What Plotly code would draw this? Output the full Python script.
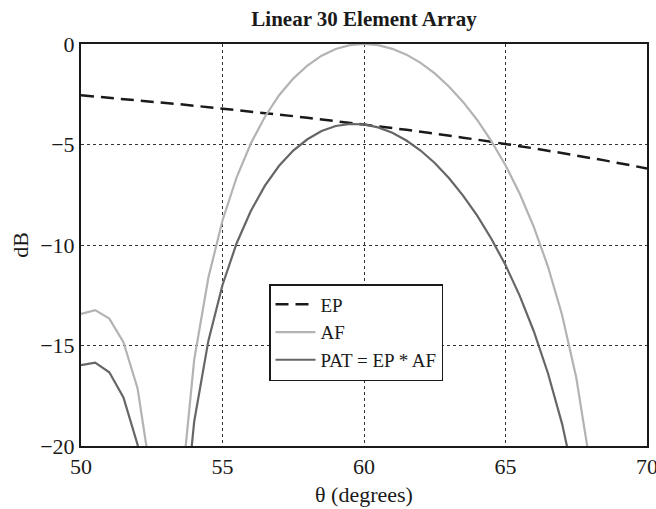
import plotly.graph_objects as go

theta = [50.0, 50.5, 51.0, 51.5, 52.0, 52.5, 53.0, 53.5, 54.0, 54.5,
         55.0, 55.5, 56.0, 56.5, 57.0, 57.5, 58.0, 58.5, 59.0, 59.5,
         60.0, 60.5, 61.0, 61.5, 62.0, 62.5, 63.0, 63.5, 64.0, 64.5,
         65.0, 65.5, 66.0, 66.5, 67.0, 67.5, 68.0, 68.5, 69.0, 69.5, 70.0]

ep = [-2.55, -2.61, -2.67, -2.74, -2.80, -2.87, -2.93, -3.00, -3.07, -3.14,
      -3.21, -3.28, -3.36, -3.43, -3.51, -3.59, -3.67, -3.75, -3.83, -3.91,
      -4.00, -4.09, -4.18, -4.27, -4.36, -4.46, -4.56, -4.66, -4.76, -4.86,
      -4.97, -5.08, -5.19, -5.31, -5.42, -5.54, -5.67, -5.79, -5.92, -6.06, -6.19]

af = [-13.43, -13.24, -13.66, -14.84, -17.14, -21.75, -39.41, -22.86, -15.71, -11.63,
      -8.78, -6.63, -4.95, -3.62, -2.55, -1.72, -1.07, -0.58, -0.25, -0.06,
      0.0, -0.06, -0.24, -0.53, -0.94, -1.46, -2.11, -2.88, -3.78, -4.83,
      -6.03, -7.44, -9.10, -11.07, -13.48, -16.59, -21.00, -29.05, -37.64, -25.03, -20.60]

pat = [-15.98, -15.85, -16.33, -17.58, -19.94, -24.62, -42.34, -25.86, -18.78, -14.77,
       -11.99, -9.91, -8.31, -7.05, -6.06, -5.30, -4.74, -4.33, -4.08, -3.98,
       -4.00, -4.15, -4.42, -4.80, -5.30, -5.92, -6.67, -7.54, -8.54, -9.69,
       -11.00, -12.52, -14.29, -16.38, -18.90, -22.13, -26.67, -34.84, -43.56, -31.09, -26.79]

x_ticks = [50, 55, 60, 65, 70]
y_ticks = [0, -5, -10, -15, -20]
y_labels = ["0", "\u22125", "\u221210", "\u221215", "\u221220"]

serif = "Liberation Serif"

fig = go.Figure()
fig.add_trace(go.Scatter(x=theta, y=ep, mode="lines", name="EP",
                         line=dict(color="#1a1a1a", width=2.5, dash="13px,7px")))
fig.add_trace(go.Scatter(x=theta, y=af, mode="lines", name="AF",
                         line=dict(color="#b3b3b3", width=2.2)))
fig.add_trace(go.Scatter(x=theta, y=pat, mode="lines", name="PAT = EP * AF",
                         line=dict(color="#666666", width=2.2)))

fig.update_layout(
    width=656, height=509,
    margin=dict(l=81, r=9, t=44, b=63),
    paper_bgcolor="white", plot_bgcolor="white",
    font=dict(family=serif, color="#1a1a1a", size=22),
    title=dict(text="<b>Linear 30 Element Array</b>", x=(81 + 647) / 2 / 656, xanchor="center",
               y=1 - 19 / 509, yanchor="middle", font=dict(size=21, family=serif)),
    showlegend=True,
    legend=dict(x=(269 - 81) / 566, y=(446 - 284) / 402, xanchor="left", yanchor="top",
                bgcolor="white", bordercolor="#1a1a1a", borderwidth=1.5,
                font=dict(size=19, family=serif), itemwidth=40,
                entrywidth=150, entrywidthmode="pixels"),
    xaxis=dict(range=[50, 70], tickvals=x_ticks, ticktext=[str(v) for v in x_ticks],
               showgrid=True, gridcolor="#333333", griddash="dot", gridwidth=1,
               showline=True, linecolor="#1a1a1a", linewidth=2, mirror=True,
               ticks="", zeroline=False, automargin=False, ticklabeloverflow="allow",
               tickfont=dict(size=22, family=serif),
               title=dict(text="θ (degrees)", font=dict(size=22, family=serif), standoff=8)),
    yaxis=dict(range=[-20, 0], tickvals=y_ticks, ticktext=y_labels,
               showgrid=True, gridcolor="#333333", griddash="dot", gridwidth=1,
               showline=True, linecolor="#1a1a1a", linewidth=2, mirror=True,
               ticks="", zeroline=False, automargin=False, ticklabeloverflow="allow",
               tickfont=dict(size=22, family=serif),
               title=dict(text="dB", font=dict(size=22, family=serif), standoff=5)),
)

fig.write_html("out.html")
